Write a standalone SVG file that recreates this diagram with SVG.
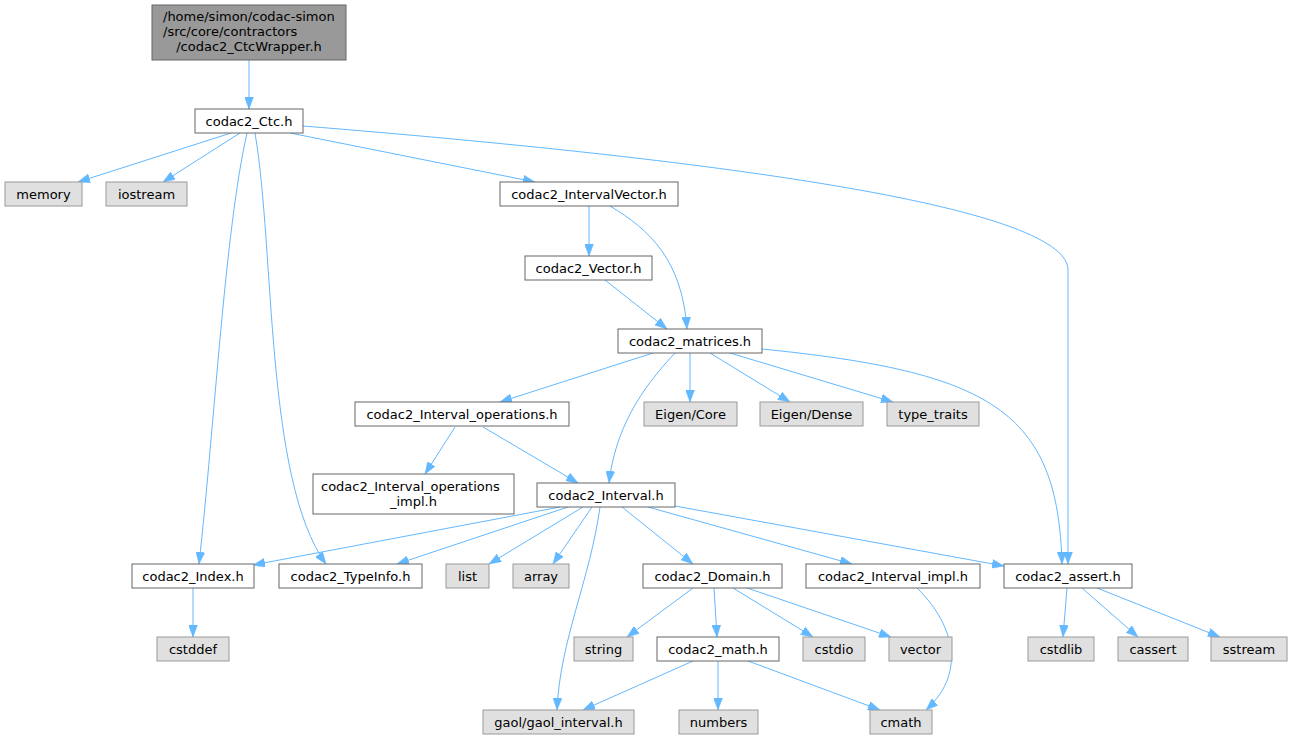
<svg xmlns="http://www.w3.org/2000/svg" width="1292" height="740" viewBox="0 0 1292 740">
<style>
text{font-family:"DejaVu Sans","Liberation Sans",sans-serif;font-size:13px;fill:#000;text-anchor:middle}
.w{fill:#fff;stroke:#666;stroke-width:1}
.g{fill:#e0e0e0;stroke:#999;stroke-width:1}
.t{fill:#999;stroke:#666;stroke-width:1}
#edges path{fill:none;stroke:#63b8ff;stroke-width:1;marker-end:url(#a)}
</style>
<defs>
<marker id="a" viewBox="0 0 12 9" refX="12" refY="4.5" markerWidth="12" markerHeight="9" markerUnits="userSpaceOnUse" orient="auto"><path d="M0,0 L12,4.5 L0,9 z" fill="#63b8ff" stroke="#63b8ff" stroke-width="0.5"/></marker>
</defs>
<rect width="1292" height="740" fill="#fff"/>
<g id="edges">
<path d="M249,60 L249,109"/>
<path d="M231,133 L78,182"/>
<path d="M240,133 L163,182"/>
<path d="M247,133 C225,230 215,420 199,564"/>
<path d="M255,133 C275,250 265,480 326,564"/>
<path d="M290,133 L535,182"/>
<path d="M303,126 C700,158 1068,205 1068,270 L1068,564"/>
<path d="M589,206 L589,256"/>
<path d="M610,206 C650,230 682,260 687,329"/>
<path d="M605,280 L667,329"/>
<path d="M653,353 L500,402"/>
<path d="M675,353 C640,390 615,430 609,483"/>
<path d="M690,353 L690,402"/>
<path d="M710,353 L790,402"/>
<path d="M730,353 L893,402"/>
<path d="M762,349 C990,372 1058,410 1062,564"/>
<path d="M455,427 L425,474"/>
<path d="M483,427 L578,483"/>
<path d="M560,507 L253,565"/>
<path d="M568,507 L397,564"/>
<path d="M583,507 L489,564"/>
<path d="M592,507 L553,564"/>
<path d="M600,507 C590,580 560,640 557,710"/>
<path d="M622,507 L693,564"/>
<path d="M648,507 L852,564"/>
<path d="M675,506 L1004,566"/>
<path d="M693,588 L627,637"/>
<path d="M714,588 L717,637"/>
<path d="M733,588 L813,637"/>
<path d="M747,588 L891,637"/>
<path d="M693,661 L583,710"/>
<path d="M718,661 L718,710"/>
<path d="M748,661 L880,710"/>
<path d="M917,588 C950,620 970,670 926,710"/>
<path d="M193,588 L193,637"/>
<path d="M1067,588 L1063,637"/>
<path d="M1082,588 L1138,637"/>
<path d="M1097,588 L1220,637"/>
</g>
<g id="n0"><rect class="t" x="152" y="5" width="194" height="55"/><text x="163" y="21" style="text-anchor:start">/home/simon/codac-simon</text><text x="163" y="36" style="text-anchor:start">/src/core/contractors</text><text x="249" y="51">/codac2_CtcWrapper.h</text></g>
<g id="n1"><rect class="w" x="195" y="109" width="108" height="24"/><text x="249" y="125.5">codac2_Ctc.h</text></g>
<g id="n2"><rect class="g" x="5" y="182" width="77" height="24"/><text x="43.5" y="198.5">memory</text></g>
<g id="n3"><rect class="g" x="106" y="182" width="81" height="24"/><text x="146.5" y="198.5">iostream</text></g>
<g id="n4"><rect class="w" x="500" y="182" width="178" height="24"/><text x="589" y="198.5">codac2_IntervalVector.h</text></g>
<g id="n5"><rect class="w" x="525" y="256" width="127" height="24"/><text x="588.5" y="272.5">codac2_Vector.h</text></g>
<g id="n6"><rect class="w" x="618" y="329" width="144" height="24"/><text x="690" y="345.5">codac2_matrices.h</text></g>
<g id="n7"><rect class="g" x="644" y="402" width="93" height="24"/><text x="690.5" y="418.5">Eigen/Core</text></g>
<g id="n8"><rect class="g" x="760" y="402" width="103" height="24"/><text x="811.5" y="418.5">Eigen/Dense</text></g>
<g id="n9"><rect class="g" x="887" y="402" width="92" height="24"/><text x="933" y="418.5">type_traits</text></g>
<g id="n10"><rect class="w" x="355" y="402" width="214" height="24"/><text x="462" y="418.5">codac2_Interval_operations.h</text></g>
<g id="n11"><rect class="w" x="313" y="474" width="201" height="40"/><text x="321" y="491" style="text-anchor:start">codac2_Interval_operations</text><text x="413.5" y="506">_impl.h</text></g>
<g id="n12"><rect class="w" x="537" y="483" width="138" height="24"/><text x="606" y="499.5">codac2_Interval.h</text></g>
<g id="n13"><rect class="w" x="132" y="564" width="122" height="24"/><text x="193" y="580.5">codac2_Index.h</text></g>
<g id="n14"><rect class="w" x="279" y="564" width="143" height="24"/><text x="350.5" y="580.5">codac2_TypeInfo.h</text></g>
<g id="n15"><rect class="g" x="446" y="564" width="43" height="24"/><text x="467.5" y="580.5">list</text></g>
<g id="n16"><rect class="g" x="513" y="564" width="56" height="24"/><text x="541" y="580.5">array</text></g>
<g id="n17"><rect class="w" x="643" y="564" width="139" height="24"/><text x="712.5" y="580.5">codac2_Domain.h</text></g>
<g id="n18"><rect class="w" x="806" y="564" width="174" height="24"/><text x="893" y="580.5">codac2_Interval_impl.h</text></g>
<g id="n19"><rect class="w" x="1004" y="564" width="128" height="24"/><text x="1068" y="580.5">codac2_assert.h</text></g>
<g id="n20"><rect class="g" x="157" y="637" width="72" height="24"/><text x="193" y="653.5">cstddef</text></g>
<g id="n21"><rect class="g" x="574" y="637" width="59" height="24"/><text x="603.5" y="653.5">string</text></g>
<g id="n22"><rect class="w" x="657" y="637" width="122" height="24"/><text x="718" y="653.5">codac2_math.h</text></g>
<g id="n23"><rect class="g" x="803" y="637" width="62" height="24"/><text x="834" y="653.5">cstdio</text></g>
<g id="n24"><rect class="g" x="889" y="637" width="63" height="24"/><text x="920.5" y="653.5">vector</text></g>
<g id="n25"><rect class="g" x="1028" y="637" width="66" height="24"/><text x="1061" y="653.5">cstdlib</text></g>
<g id="n26"><rect class="g" x="1118" y="637" width="70" height="24"/><text x="1153" y="653.5">cassert</text></g>
<g id="n27"><rect class="g" x="1211" y="637" width="76" height="24"/><text x="1249" y="653.5">sstream</text></g>
<g id="n28"><rect class="g" x="483" y="710" width="151" height="24"/><text x="558.5" y="726.5">gaol/gaol_interval.h</text></g>
<g id="n29"><rect class="g" x="679" y="710" width="79" height="24"/><text x="718.5" y="726.5">numbers</text></g>
<g id="n30"><rect class="g" x="870" y="710" width="62" height="24"/><text x="901" y="726.5">cmath</text></g>
</svg>
